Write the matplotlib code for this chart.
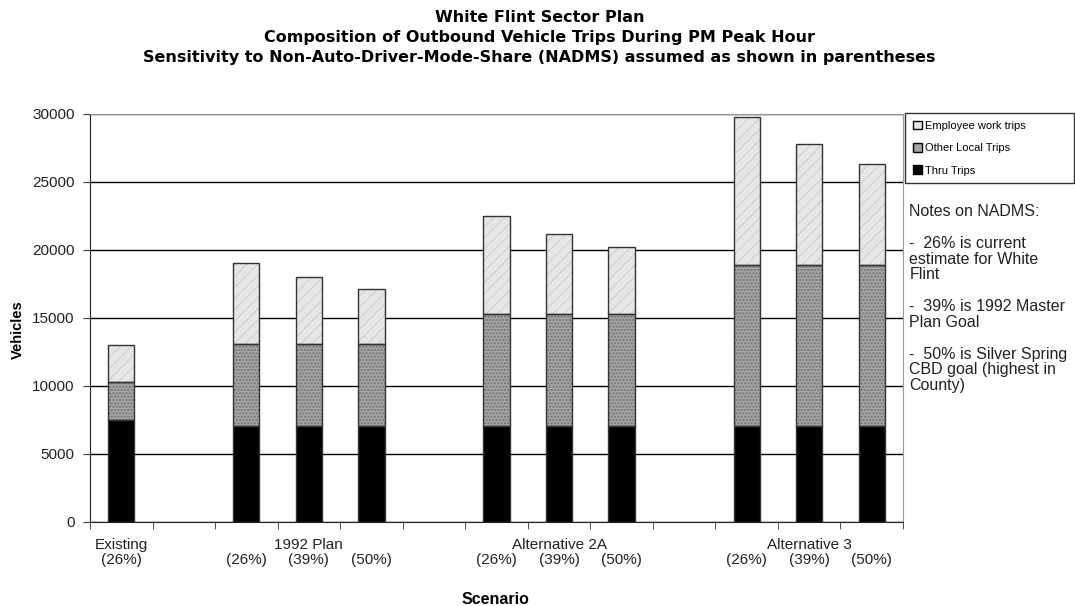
import matplotlib
matplotlib.use("Agg")
import matplotlib.pyplot as plt
from matplotlib.patches import Patch
import numpy as np

plt.rcParams['font.family'] = ['Liberation Sans', 'DejaVu Sans']

# ---- data ----
slots = ["Existing (26%)", "", "1992 Plan (26%)", "1992 Plan (39%)", "1992 Plan (50%)", "",
         "Alternative 2A (26%)", "Alternative 2A (39%)", "Alternative 2A (50%)", "",
         "Alternative 3 (26%)", "Alternative 3 (39%)", "Alternative 3 (50%)"]
tick_top = ["Existing", "", "", "1992 Plan", "", "", "", "Alternative 2A", "", "", "", "Alternative 3", ""]
tick_pct = ["(26%)", "", "(26%)", "(39%)", "(50%)", "", "(26%)", "(39%)", "(50%)", "", "(26%)", "(39%)", "(50%)"]
thru = [7500, 0, 7000, 7000, 7000, 0, 7000, 7000, 7000, 0, 7000, 7000, 7000]
other_local = [2800, 0, 6100, 6100, 6100, 0, 8300, 8300, 8300, 0, 11900, 11900, 11900]
employee = [2700, 0, 5900, 4900, 4000, 0, 7200, 5900, 4900, 0, 10900, 8900, 7400]
series_names = ["Employee work trips", "Other Local Trips", "Thru Trips"]
yticks = [0, 5000, 10000, 15000, 20000, 25000, 30000]

fig = plt.figure(figsize=(10.75, 6.06), dpi=100)
ax = fig.add_axes([0.0837, 0.1393, 0.7563, 0.6726])

x = np.arange(len(slots))
w = 0.42
mask = np.array(thru) + np.array(other_local) + np.array(employee) > 0
xs = x[mask]
th = np.array(thru)[mask]
ol = np.array(other_local)[mask]
em = np.array(employee)[mask]

def layer(vals, bottom, face, hatch, hcol):
    ax.bar(xs, vals, w, bottom=bottom, color=face, hatch=hatch, edgecolor=hcol, linewidth=0, zorder=3)
    ax.bar(xs, vals, w, bottom=bottom, color='none', edgecolor='#333333', linewidth=1.0, zorder=4)

layer(th, 0, 'black', None, 'black')
layer(ol, th, '#a4a4a4', '.....', '#727272')
layer(em, th + ol, '#e6e6e6', '///', '#d2d2d2')

ax.set_xlim(-0.5, len(slots) - 0.5)
ax.set_ylim(0, 30000)
ax.set_yticks(yticks)
ax.set_yticklabels([str(v) for v in yticks], fontsize=11, color='#222222')
ax.yaxis.grid(True, color='black', linewidth=1.0, zorder=0)
ax.set_axisbelow(True)

ax.set_xticks(x)
ax.set_xticklabels(["" for _ in x])
ax.tick_params(axis='x', which='major', length=0)
ax.set_xticks(np.arange(len(slots) + 1) - 0.5, minor=True)
ax.tick_params(axis='x', which='minor', length=5, direction='out', color='#333333')
ax.tick_params(axis='y', length=5, direction='out', color='#333333', pad=6)

for i in x:
    if tick_top[i]:
        ax.text(i, -1700, tick_top[i], ha='center', va='center', fontsize=11, color='#222222')
    if tick_pct[i]:
        ax.text(i, -2800, tick_pct[i], ha='center', va='center', fontsize=11, color='#222222')

for s in ['top', 'right']:
    ax.spines[s].set_color('#999999')
ax.spines['left'].set_color('#222222')
ax.spines['bottom'].set_color('#222222')

fig.text(18 / 1075, 1 - 330 / 606, "Vehicles", rotation=90, ha='center', va='center',
         fontsize=10.5, fontweight='bold')
fig.text(495 / 1075, 1 - 600 / 606, "Scenario", ha='center', va='center', fontsize=11.5, fontweight='bold')

fig.text(0.502, 0.983, "White Flint Sector Plan\nComposition of Outbound Vehicle Trips During PM Peak Hour\n"
         "Sensitivity to Non-Auto-Driver-Mode-Share (NADMS) assumed as shown in parentheses",
         ha='center', va='top', fontsize=11.5, fontweight='bold', linespacing=1.42,
         family=['DejaVu Sans'])

handles = [Patch(facecolor='#e6e6e6', edgecolor='black', label=series_names[0]),
           Patch(facecolor='#a4a4a4', edgecolor='black', label=series_names[1]),
           Patch(facecolor='black', edgecolor='black', label=series_names[2])]
leg = fig.legend(handles=handles, loc='upper left',
                 bbox_to_anchor=(905 / 1075, 1 - 113 / 606, 169 / 1075, 0.0), mode='expand',
                 borderaxespad=0.0,
                 fontsize=8, handlelength=0.8, handleheight=0.8, handletextpad=0.3,
                 labelspacing=1.1, borderpad=0.7, frameon=True, fancybox=False)
leg.get_frame().set_edgecolor('black')
leg.get_frame().set_linewidth(1.0)
leg._legend_box.set_offset(leg._legend_box.get_offset) if False else None
for t in leg.get_texts():
    pass

notes = ("Notes on NADMS:\n\n-  26% is current\nestimate for White\nFlint\n\n"
         "-  39% is 1992 Master\nPlan Goal\n\n-  50% is Silver Spring\nCBD goal (highest in\nCounty)")
fig.text(0.846, 1 - 204 / 606, notes, ha='left', va='top', fontsize=11.5, linespacing=1.07,
         color='#222222')

fig.savefig("out.png", dpi=100)
